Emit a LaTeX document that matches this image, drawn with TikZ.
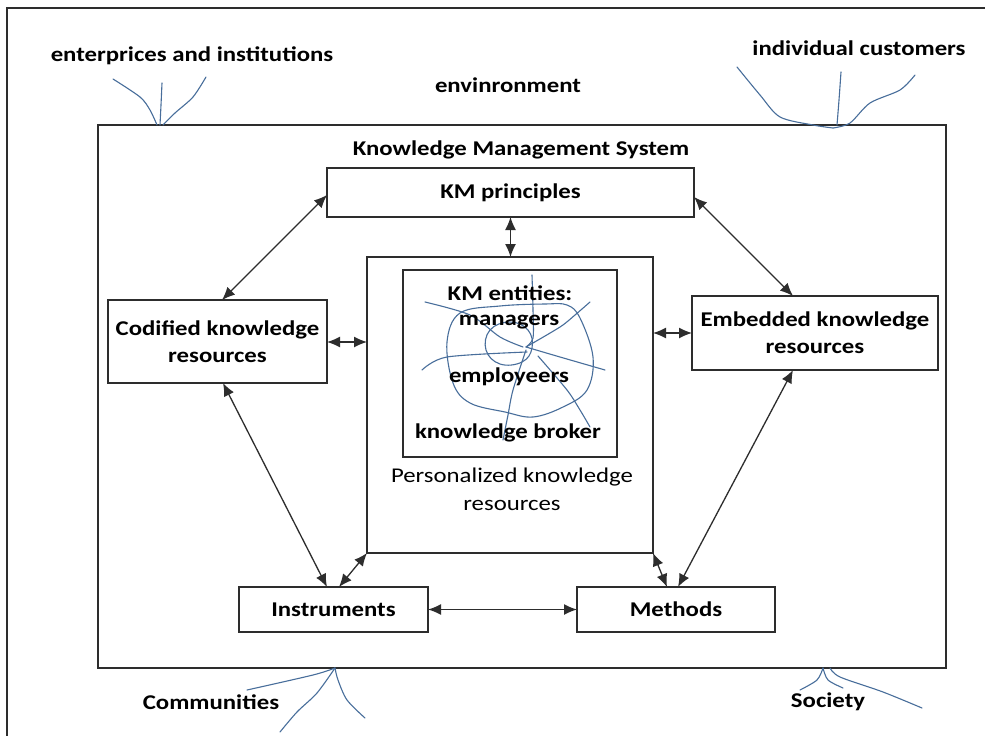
\documentclass[tikz,border=0pt]{standalone}
\usepackage{fontspec}
\setmainfont{Carlito}[FakeStretch=1.18]
\usetikzlibrary{calc,arrows.meta}
\definecolor{scribble}{RGB}{72,110,155}
\definecolor{boxline}{RGB}{45,45,45}
\begin{document}
\begin{tikzpicture}[x=1pt,y=-1pt,
  box/.style={draw=boxline,line width=1.4pt,inner sep=0pt,outer sep=0pt,align=center,
    font=\fontsize{21}{27}\selectfont\bfseries},
  lbl/.style={inner sep=0pt,font=\fontsize{21}{27}\selectfont\bfseries},
  plain/.style={inner sep=0pt,align=center,font=\fontsize{21}{28}\selectfont},
  arr/.style={line width=1.3pt,draw=boxline,{Latex[length=13pt,width=11pt]}-{Latex[length=13pt,width=11pt]}},
  scrib/.style={draw=scribble,line width=1.1pt,line cap=round,line join=round}]
\useasboundingbox (0,0) rectangle (985,736);
\fill[white] (0,0) rectangle (985,736);
% outer frame
\draw[boxline,line width=1.4pt] (7,740) -- (7,8) -- (990,8);
% main system box
\node[draw=boxline,line width=1.4pt,inner sep=0pt,minimum width=848pt,minimum height=543pt] (sys) at (522,396.5) {};
\node[lbl] (systitle) at (521,150) {Knowledge Management System};
% boxes
\node[box,minimum width=367pt,minimum height=49pt] (kmp) at (510.5,192.5) {KM principles};
\node[box,minimum width=286pt,minimum height=296pt] (pers) at (510,405) {};
\node[box,minimum width=214pt,minimum height=187pt] (inner) at (510,363.5) {};
\node[box,minimum width=219pt,minimum height=83pt] (cod) at (217.5,341.5) {Codified knowledge\\resources};
\node[box,minimum width=246pt,minimum height=74pt] (emb) at (815,333) {Embedded knowledge\\resources};
\node[box,minimum width=189pt,minimum height=45pt] (ins) at (333.5,609.5) {Instruments};
\node[box,minimum width=198pt,minimum height=45pt] (met) at (676,609.5) {Methods};
% personalized label
\node[plain] (perslbl) at (512,489) {Personalized knowledge\\resources};
% scribble inside inner box
\draw[scrib] plot[smooth cycle,tension=0.6] coordinates {(447,342) (460,313) (500,306) (545,304) (567,305) (580,318) (593,357) (587,390) (563,407) (533,417) (505,412) (470,403) (453,383)};
\draw[scrib] plot[smooth cycle,tension=0.7] coordinates {(490,330) (510,322) (528,330) (532,348) (522,362) (500,364) (486,350)};
\draw[scrib] plot[smooth] coordinates {(532,275) (533,310) (533,338) (526,347)};
\draw[scrib] plot[smooth] coordinates {(425,302) (470,315) (500,337) (523,347)};
\draw[scrib] plot[smooth] coordinates {(590,302) (575,315) (560,327) (526,347)};
\draw[scrib] plot[smooth] coordinates {(422,370) (447,357) (527,352)};
\draw[scrib] plot[smooth] coordinates {(526,347) (560,357) (605,370)};
\draw[scrib] plot[smooth] coordinates {(526,350) (513,390) (508,415) (503,440)};
\draw[scrib] plot[smooth] coordinates {(538,356) (567,390) (580,410) (590,427)};
% inner texts
\node[lbl] (ent1) at (510,293) {KM entities:};
\node[lbl] (ent2) at (509,322) {managers};
\node[lbl] (ent3) at (509,377) {employeers};
\node[lbl] (ent4) at (508,433) {knowledge broker};
% connectors
\draw[arr] ($(cod.north west)+(114,0)$) -- ($(kmp.north west)+(0,27)$);
\draw[arr] ($(kmp.north east)+(0,29)$) -- ($(emb.north west)+(101,0)$);
\draw[arr] (kmp.south) -- (kmp.south |- pers.north);
\draw[arr] ($(cod.north east)+(0,42)$) -- ($(pers.north west)+(0,85)$);
\draw[arr] ($(pers.north east)+(0,76)$) -- (emb.west);
\draw[arr] ($(cod.south west)+(115,0)$) -- ($(ins.north west)+(88,0)$);
\draw[arr] (pers.south west) -- ($(ins.north west)+(100,0)$);
\draw[arr] (pers.south east) -- ($(met.north west)+(90,0)$);
\draw[arr] ($(emb.south west)+(101,0)$) -- ($(met.north west)+(101,0)$);
\draw[arr] (ins.east) -- (met.west);
% environment labels
\node[lbl] (ent) at (192,56) {enterprices and institutions};
\node[lbl] (env) at (508,85) {envinronment};
\node[lbl] (cust) at (859,48) {individual customers};
\node[lbl] (comm) at (211,702) {Communities};
\node[lbl] (soc) at (828,702) {Society};
% scribbles outside
\draw[scrib] plot[smooth] coordinates {(113,79) (140,97) (150,110) (157,125)};
\draw[scrib] plot[smooth] coordinates {(162,83) (161,105) (160,125)};
\draw[scrib] plot[smooth] coordinates {(206,77) (193,97) (175,113) (163,125)};
\draw[scrib] plot[smooth] coordinates {(737,67) (760,95) (780,117) (813,125) (833,128)};
\draw[scrib] plot[smooth] coordinates {(841,72) (839,100) (837,125)};
\draw[scrib] plot[smooth] coordinates {(915,75) (900,90) (870,103) (850,123) (833,128)};
\draw[scrib] plot[smooth] coordinates {(335,668) (313,675) (247,690)};
\draw[scrib] plot[smooth] coordinates {(335,668) (317,693) (297,712) (280,732)};
\draw[scrib] plot[smooth] coordinates {(335,668) (338,680) (347,700) (365,718)};
\draw[scrib] plot[smooth] coordinates {(823,668) (817,680) (800,690)};
\draw[scrib] plot[smooth] coordinates {(823,668) (828,680) (843,688)};
\draw[scrib] plot[smooth] coordinates {(830,668) (840,677) (883,692) (922,708)};
\end{tikzpicture}
\end{document}
